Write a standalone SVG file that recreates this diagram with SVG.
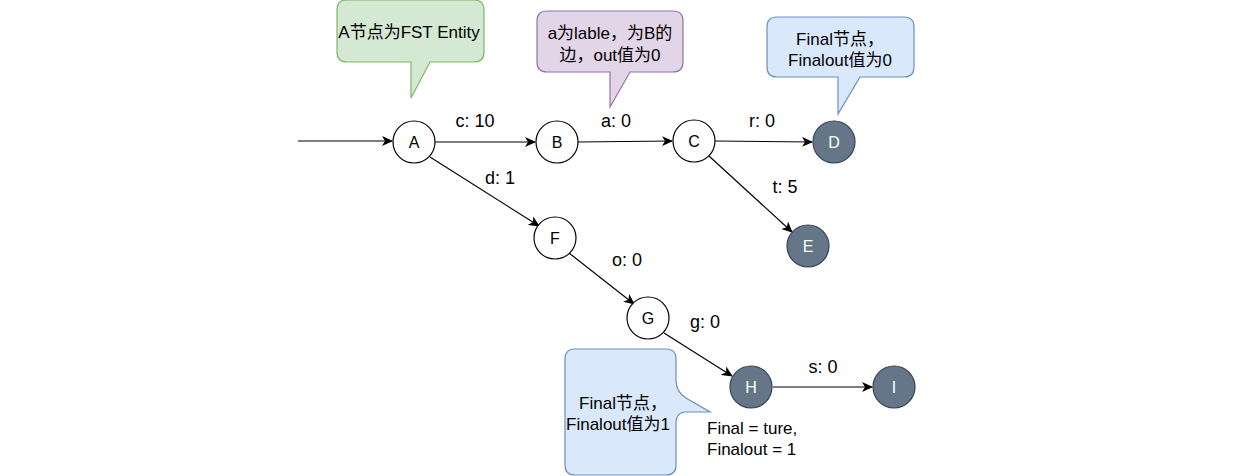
<svg xmlns="http://www.w3.org/2000/svg" width="1236" height="476" viewBox="0 0 1236 476">
<style>
text{font-family:"Liberation Sans","Noto Sans CJK SC",Arial,sans-serif;fill:#000}
.lbl{font-size:18px;text-anchor:middle}
.nt{font-size:16px;text-anchor:middle;dominant-baseline:central}
.c{font-size:17px;text-anchor:middle}
.s{font-size:17px;text-anchor:start}
.n{fill:#fff;stroke:#000;stroke-width:1.2}
.f{fill:#647687;stroke:#314354;stroke-width:1.2}
.fw{fill:#fff}
.e{stroke:#000;stroke-width:1.2;fill:none;marker-end:url(#arr)}
</style>
<defs>
<marker id="arr" markerWidth="12" markerHeight="10" refX="10" refY="5" orient="auto" markerUnits="userSpaceOnUse">
<path d="M0,0 L11,5 L0,10 L3,5 Z" fill="#000"/>
</marker>
</defs>
<rect width="1236" height="476" fill="#fff"/>
<g id="connectors">
<line class="e" x1="298" y1="141" x2="392" y2="141"/>
<line class="e" x1="435" y1="142" x2="535" y2="142"/>
<line class="e" x1="578" y1="142" x2="672" y2="141"/>
<line class="e" x1="715" y1="141" x2="812" y2="142"/>
<line class="e" x1="709" y1="156" x2="792" y2="232"/>
<line class="e" x1="430" y1="157" x2="539" y2="226"/>
<line class="e" x1="569" y1="253" x2="634" y2="304"/>
<line class="e" x1="664" y1="333" x2="732" y2="376"/>
<line class="e" x1="773" y1="387" x2="872" y2="387"/>
<text class="lbl" x="475" y="127">c: 10</text>
<text class="lbl" x="616" y="127">a: 0</text>
<text class="lbl" x="762" y="127">r: 0</text>
<text class="lbl" x="500" y="184">d: 1</text>
<text class="lbl" x="785" y="193">t: 5</text>
<text class="lbl" x="627" y="266">o: 0</text>
<text class="lbl" x="705" y="328">g: 0</text>
<text class="lbl" x="823" y="373">s: 0</text>
</g>
<g id="nodeA"><circle class="n" cx="414" cy="142" r="21"/><text class="nt" x="414" y="142">A</text></g>
<g id="nodeB"><circle class="n" cx="557" cy="142" r="21"/><text class="nt" x="557" y="142">B</text></g>
<g id="nodeC"><circle class="n" cx="694" cy="141" r="21"/><text class="nt" x="694" y="141">C</text></g>
<g id="nodeD"><circle class="f" cx="834" cy="142" r="21"/><text class="nt fw" x="834" y="142">D</text></g>
<g id="nodeE"><circle class="f" cx="808" cy="246" r="21"/><text class="nt fw" x="808" y="246">E</text></g>
<g id="nodeF"><circle class="n" cx="555" cy="238" r="21"/><text class="nt" x="555" y="238">F</text></g>
<g id="nodeG"><circle class="n" cx="648" cy="318" r="21"/><text class="nt" x="648" y="318">G</text></g>
<g id="nodeH"><circle class="f" cx="751" cy="387" r="21"/><text class="nt fw" x="751" y="387">H</text></g>
<g id="nodeI"><circle class="f" cx="894" cy="387" r="21"/><text class="nt fw" x="894" y="387">I</text></g>
<g id="callout1">
<path d="M347,0 H474 Q484,0 484,10 V52 Q484,62 474,62 H430 L411,98 V62 H347 Q337,62 337,52 V10 Q337,0 347,0 Z" fill="#d5e8d4" stroke="#82b366" stroke-width="1.2"/>
<text class="c" x="409" y="38">A节点为FST Entity</text>
</g>
<g id="callout2">
<path d="M547,11 H673 Q683,11 683,21 V62 Q683,72 673,72 H630 L610,107 V72 H547 Q537,72 537,62 V21 Q537,11 547,11 Z" fill="#e1d5e7" stroke="#9673a6" stroke-width="1.2"/>
<text class="c" x="610" y="39">a为lable，为B的</text>
<text class="c" x="610" y="61">边，out值为0</text>
</g>
<g id="callout3">
<path d="M777,17 H904 Q914,17 914,27 V67 Q914,77 904,77 H860 L838,114 V77 H777 Q767,77 767,67 V27 Q767,17 777,17 Z" fill="#dae8fc" stroke="#6c8ebf" stroke-width="1.2"/>
<text class="c" x="840" y="45">Final节点，</text>
<text class="c" x="840" y="66">Finalout值为0</text>
</g>
<g id="callout4">
<path d="M575,349 H666 Q676,349 676,359 V380 Q676,392 686,398 L710,412 H686 Q676,412 676,424 V465 Q676,475 666,475 H575 Q565,475 565,465 V359 Q565,349 575,349 Z" fill="#dae8fc" stroke="#6c8ebf" stroke-width="1.2"/>
<text class="c" x="623" y="409">Final节点，</text>
<text class="c" x="618" y="430">Finalout值为1</text>
</g>
<g id="noteH">
<text class="s" x="707" y="434">Final = ture,</text>
<text class="s" x="707" y="455">Finalout = 1</text>
</g>
</svg>
